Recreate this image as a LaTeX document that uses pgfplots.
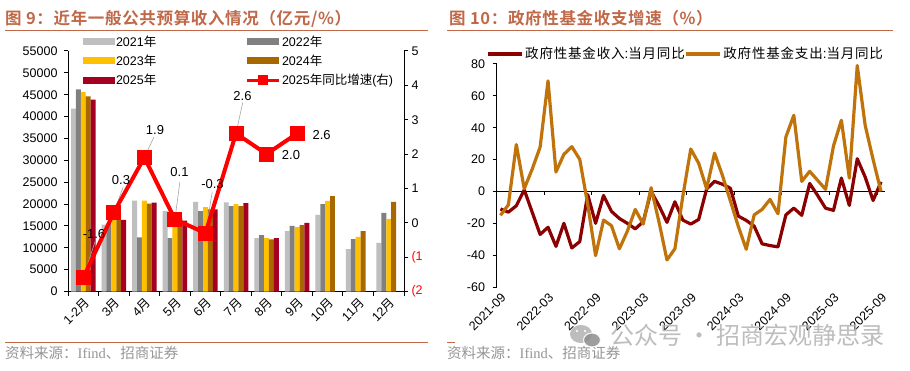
\documentclass[border=0pt]{standalone}
\usepackage{fontspec}
\usepackage{pgfplots}
\pgfplotsset{compat=1.18}
\setmainfont{Liberation Sans}
\newfontfamily\cjk{Noto Sans CJK SC}
\newfontfamily\cjkl{Noto Sans CJK SC}[LetterSpace=6]
\newfontfamily\cjkb{Noto Sans CJK SC Bold}[LetterSpace=4]
\newfontfamily\serifl{Liberation Serif}
\definecolor{c21}{RGB}{191,191,191}
\definecolor{c22}{RGB}{128,128,128}
\definecolor{c23}{RGB}{255,192,0}
\definecolor{c24}{RGB}{168,104,0}
\definecolor{c25}{RGB}{165,0,33}
\definecolor{titc}{RGB}{192,104,72}
\definecolor{srcc}{RGB}{150,150,150}
\definecolor{incc}{RGB}{139,0,0}
\definecolor{expc}{RGB}{191,115,10}
\definecolor{wm}{RGB}{178,178,178}
\newcommand\fs[1]{\fontsize{#1}{#1}\selectfont}
\begin{document}
\begin{tikzpicture}
\path[use as bounding box, fill=white] (0pt,0pt) rectangle (910pt,-371pt);
% titles and rules
\node[anchor=west, inner sep=0pt, text=titc, font=\cjkb\fs{16.5}] at (5pt,-18.5pt) {图 9：近年一般公共预算收入情况（亿元/\%）};
\node[anchor=west, inner sep=0pt, text=titc, font=\cjkb\fs{16.5}] at (449pt,-18.5pt) {图 10：政府性基金收支增速（\%）};
\draw[titc, line width=1pt] (5pt,-30.5pt) -- (428pt,-30.5pt);
\draw[titc, line width=1pt] (447pt,-30.5pt) -- (893pt,-30.5pt);
\draw[titc, line width=1pt] (5pt,-342pt) -- (428pt,-342pt);
\draw[titc, line width=1pt] (447pt,-342pt) -- (455pt,-342pt);
\node[anchor=west, inner sep=0pt, text=srcc, font=\fs{14.5}] at (5pt,-353pt) {{\cjk 资料来源：}{\serifl Ifind}{\cjk 、招商证券}};
\node[anchor=west, inner sep=0pt, text=srcc, font=\fs{14.5}] at (447pt,-353pt) {{\cjk 资料来源：}{\serifl Ifind}{\cjk 、招商证券}};

% ---------------- left chart: bars ----------------
\begin{axis}[
  at={(68pt,-291.5pt)}, anchor=south west,
  scale only axis, width=336pt, height=240.5pt,
  xmin=-0.5, xmax=10.5, ymin=0, ymax=55000,
  axis x line*=bottom, axis y line*=left,
  axis line style={black, line width=1pt},
  tick align=outside, major tick length=4pt, minor tick length=4pt,
  tick style={black, line width=1pt},
  xtick={0,...,10},
  xticklabels={{1-2{\cjk 月}},{3{\cjk 月}},{4{\cjk 月}},{5{\cjk 月}},{6{\cjk 月}},{7{\cjk 月}},{8{\cjk 月}},{9{\cjk 月}},{10{\cjk 月}},{11{\cjk 月}},{12{\cjk 月}}},
  major x tick style={draw=none},
  minor xtick={-0.5,0.5,...,10.5},
  ytick={0,5000,...,55000},
  scaled y ticks=false,
  /pgf/number format/assume math mode=true,
  yticklabel style={/pgf/number format/1000 sep={}, xshift=-3pt},
  tick label style={font=\fs{12.5}},
  xticklabel style={rotate=45, anchor=north east, inner sep=1pt},
  ybar=0pt, bar width=4.9pt,
]
\addplot[fill=c21, draw=none] coordinates {(0,41800)(1,15300)(2,20800)(3,18400)(4,20500)(5,20400)(6,12200)(7,13800)(8,17500)(9,9700)(10,11100)};
\addplot[fill=c22, draw=none] coordinates {(0,46200)(1,15500)(2,12400)(3,12200)(4,18400)(5,19500)(6,12900)(7,15000)(8,20000)(9,12000)(10,18000)};
\addplot[fill=c23, draw=none] coordinates {(0,45600)(1,16700)(2,20800)(3,17800)(4,19300)(5,20000)(6,12200)(7,14700)(8,20700)(9,12500)(10,16600)};
\addplot[fill=c24, draw=none] coordinates {(0,44600)(1,16300)(2,20100)(3,16900)(4,18800)(5,19500)(6,11900)(7,15200)(8,21800)(9,13800)(10,20500)};
\addplot[fill=c25, draw=none] coordinates {(0,43900)(1,16400)(2,20300)(3,16200)(4,18800)(5,20200)(6,12200)(7,15700)};
\end{axis}

% ---------------- left chart: growth line ----------------
\begin{axis}[
  at={(68pt,-291.5pt)}, anchor=south west,
  scale only axis, width=336pt, height=240.5pt,
  xmin=-0.5, xmax=10.5, ymin=-2, ymax=5,
  axis x line=none, axis y line*=right,
  axis line style={black, line width=1pt},
  tick align=outside, major tick length=4pt,
  tick style={black, line width=1pt},
  ytick={-2,...,5},
  yticklabels={{\color{red}(2},{\color{red}(1},0,1,2,3,4,5},
  tick label style={font=\fs{12.5}},
  clip=false,
  legend columns=2,
  legend cell align=left,
  legend style={at={(axis description cs:0.0432,1.069)}, anchor=north west,
    draw=none, fill=none, inner sep=0pt, outer sep=0pt,
    font=\fs{12.5}, nodes={inner sep=1.5pt}, row sep=4pt},
]
\addlegendimage{fill=c21, draw=none, legend image code/.code={\fill (0pt,-3.5pt) rectangle (32pt,3.5pt);}}
\addlegendentry{\makebox[128pt][l]{2021{\cjk 年}}}
\addlegendimage{fill=c22, draw=none, legend image code/.code={\fill (0pt,-3.5pt) rectangle (32pt,3.5pt);}}
\addlegendentry{2022{\cjk 年}}
\addlegendimage{fill=c23, draw=none, legend image code/.code={\fill (0pt,-3.5pt) rectangle (32pt,3.5pt);}}
\addlegendentry{\makebox[128pt][l]{2023{\cjk 年}}}
\addlegendimage{fill=c24, draw=none, legend image code/.code={\fill (0pt,-3.5pt) rectangle (32pt,3.5pt);}}
\addlegendentry{2024{\cjk 年}}
\addlegendimage{fill=c25, draw=none, legend image code/.code={\fill (0pt,-3.5pt) rectangle (32pt,3.5pt);}}
\addlegendentry{\makebox[128pt][l]{2025{\cjk 年}}}
% leader lines
\draw[black!35, line width=0.6pt] (axis cs:0,-1.6) -- ++(11.7pt,36pt);
\draw[black!35, line width=0.6pt] (axis cs:1,0.3) -- ++(9.2pt,25pt);
\draw[black!35, line width=0.6pt] (axis cs:2,1.9) -- ++(9.6pt,20.6pt);
\draw[black!35, line width=0.6pt] (axis cs:3,0.1) -- ++(5pt,37.6pt);
\draw[black!35, line width=0.6pt] (axis cs:4,-0.3) -- ++(6.8pt,41.3pt);
\draw[black!35, line width=0.6pt] (axis cs:5,2.6) -- ++(6.7pt,30.8pt);
\addplot[red, line width=4pt, mark=square*, mark size=5.5pt, mark options={solid, fill=red},
  legend image code/.code={\draw[line width=3pt] (0pt,0pt) -- (32pt,0pt); \fill (13pt,-3pt) rectangle (19pt,3pt);}]
  coordinates {(0,-1.6)(1,0.3)(2,1.9)(3,0.1)(4,-0.3)(5,2.6)(6,2.0)(7,2.6)};
\addlegendentry{2025{\cjk 年同比增速}({\cjk 右})}
\node[font=\fs{13}, xshift=10.7pt, yshift=44pt] at (axis cs:0,-1.6) {-1.6};
\node[font=\fs{13}, xshift=7.2pt, yshift=32.5pt] at (axis cs:1,0.3) {0.3};
\node[font=\fs{13}, xshift=10.6pt, yshift=27.6pt] at (axis cs:2,1.9) {1.9};
\node[font=\fs{13}, xshift=4.6pt, yshift=47.6pt] at (axis cs:3,0.1) {0.1};
\node[font=\fs{13}, xshift=7pt, yshift=48.8pt] at (axis cs:4,-0.3) {-0.3};
\node[font=\fs{13}, xshift=6.5pt, yshift=37.8pt] at (axis cs:5,2.6) {2.6};
\node[font=\fs{13}, xshift=24.4pt, yshift=-0.6pt] at (axis cs:6,2.0) {2.0};
\node[font=\fs{13}, xshift=24.5pt, yshift=-1.7pt] at (axis cs:7,2.6) {2.6};
\end{axis}

% ---------------- right chart ----------------
\begin{axis}[
  at={(496.5pt,-287pt)}, anchor=south west,
  scale only axis, width=388.5pt, height=223pt,
  xmin=-0.5, xmax=48.5, ymin=-60, ymax=80,
  axis x line*=bottom, axis y line*=left,
  x axis line style={draw=none},
  y axis line style={black, line width=1pt},
  tick align=outside, major tick length=4pt,
  tick style={black, line width=1pt},
  major x tick style={draw=none},
  ytick={-60,-40,...,80},
  xtick={0,6,...,48},
  xticklabels={2021-09,2022-03,2022-09,2023-03,2023-09,2024-03,2024-09,2025-03,2025-09},
  /pgf/number format/assume math mode=true,
  tick label style={font=\fs{12.5}},
  yticklabel style={xshift=-4pt},
  xticklabel style={rotate=45, anchor=north east, inner sep=1pt},
  clip=false,
  legend columns=2,
  legend cell align=left,
  legend image code/.code={\draw[line width=3.2pt] (0pt,0pt) -- (34pt,0pt);},
  legend style={at={(axis description cs:-0.0257,1.0448)}, anchor=west,
    draw=none, fill=none, inner sep=0pt, outer sep=0pt,
    font=\fs{13.5}, nodes={inner sep=1.5pt}},
]
\draw[black, line width=1pt] (axis cs:-0.5,0) -- (axis cs:48.5,0);
\draw[black, line width=1pt] (axis cs:5.5,0) -- ++(0pt,-4pt);
\draw[black, line width=1pt] (axis cs:11.5,0) -- ++(0pt,-4pt);
\draw[black, line width=1pt] (axis cs:17.5,0) -- ++(0pt,-4pt);
\draw[black, line width=1pt] (axis cs:23.5,0) -- ++(0pt,-4pt);
\draw[black, line width=1pt] (axis cs:29.5,0) -- ++(0pt,-4pt);
\draw[black, line width=1pt] (axis cs:35.5,0) -- ++(0pt,-4pt);
\draw[black, line width=1pt] (axis cs:41.5,0) -- ++(0pt,-4pt);
\draw[black, line width=1pt] (axis cs:47.5,0) -- ++(0pt,-4pt);
\addplot[incc, line width=3.2pt, line join=round] coordinates {
(0,-11)(1,-13)(2,-9)(3,1)(4,-13)(5,-27)(6,-22.5)(7,-34.5)(8,-20)(9,-35.5)
(10,-31.5)(11,-2)(12,-20)(13,-2.5)(14,-12.5)(15,-17)(16,-20)(17,-23.5)(18,-19)(19,0)
(20,-9)(21,-19.4)(22,-6.5)(23,-18)(24,-20.5)(25,-17.6)(26,1.5)(27,6.3)(28,4.5)(29,2)
(30,-15.5)(31,-18.2)(32,-21.8)(33,-32.9)(34,-34)(35,-34.8)(36,-14.7)(37,-10.5)(38,-15)(39,5)
(40,-2.5)(41,-10.5)(42,-11.9)(43,8.4)(44,-8.8)(45,20.5)(46,9)(47,-5.7)(48,6)};
\addlegendentry{\makebox[158pt][l]{{\cjkl 政府性基金收入}:{\cjkl 当月同比}}}
\addplot[expc, line width=3.2pt, line join=round] coordinates {
(0,-15)(1,-8.4)(2,29.4)(3,1.7)(4,14)(5,27.8)(6,69.4)(7,12.2)(8,23.3)(9,28.1)
(10,20.1)(11,-8)(12,-40.3)(13,-18)(14,-21.5)(15,-36)(16,-25)(17,-11.3)(18,-20.5)(19,2.3)
(20,-19.3)(21,-43)(22,-36)(23,-3)(24,26.6)(25,17.7)(26,1.7)(27,24)(28,10)(29,-6)
(30,-22)(31,-36.3)(32,-14.7)(33,-11.3)(34,-5)(35,-14)(36,34.2)(37,47.8)(38,6.3)(39,12.6)
(40,7)(41,1.3)(42,28.5)(43,44.7)(44,8.4)(45,79)(46,41.5)(47,20)(48,0)};
\addlegendentry{{\cjkl 政府性基金支出}:{\cjkl 当月同比}}
\end{axis}

% watermark
\begin{scope}[opacity=0.85]
\fill[wm] (581pt,-334pt) ellipse (11pt and 9pt);
\fill[wm!80!black, draw=white, line width=1.2pt] (592pt,-340pt) ellipse (8.5pt and 7pt);
\fill[white] (577pt,-331pt) circle (1.3pt);
\fill[white] (585pt,-331pt) circle (1.3pt);
\node[anchor=west, inner sep=0pt, text=wm, font=\cjk\fs{24}] at (610pt,-335pt) {公众号 · 招商宏观静思录};
\end{scope}
\end{tikzpicture}
\end{document}
